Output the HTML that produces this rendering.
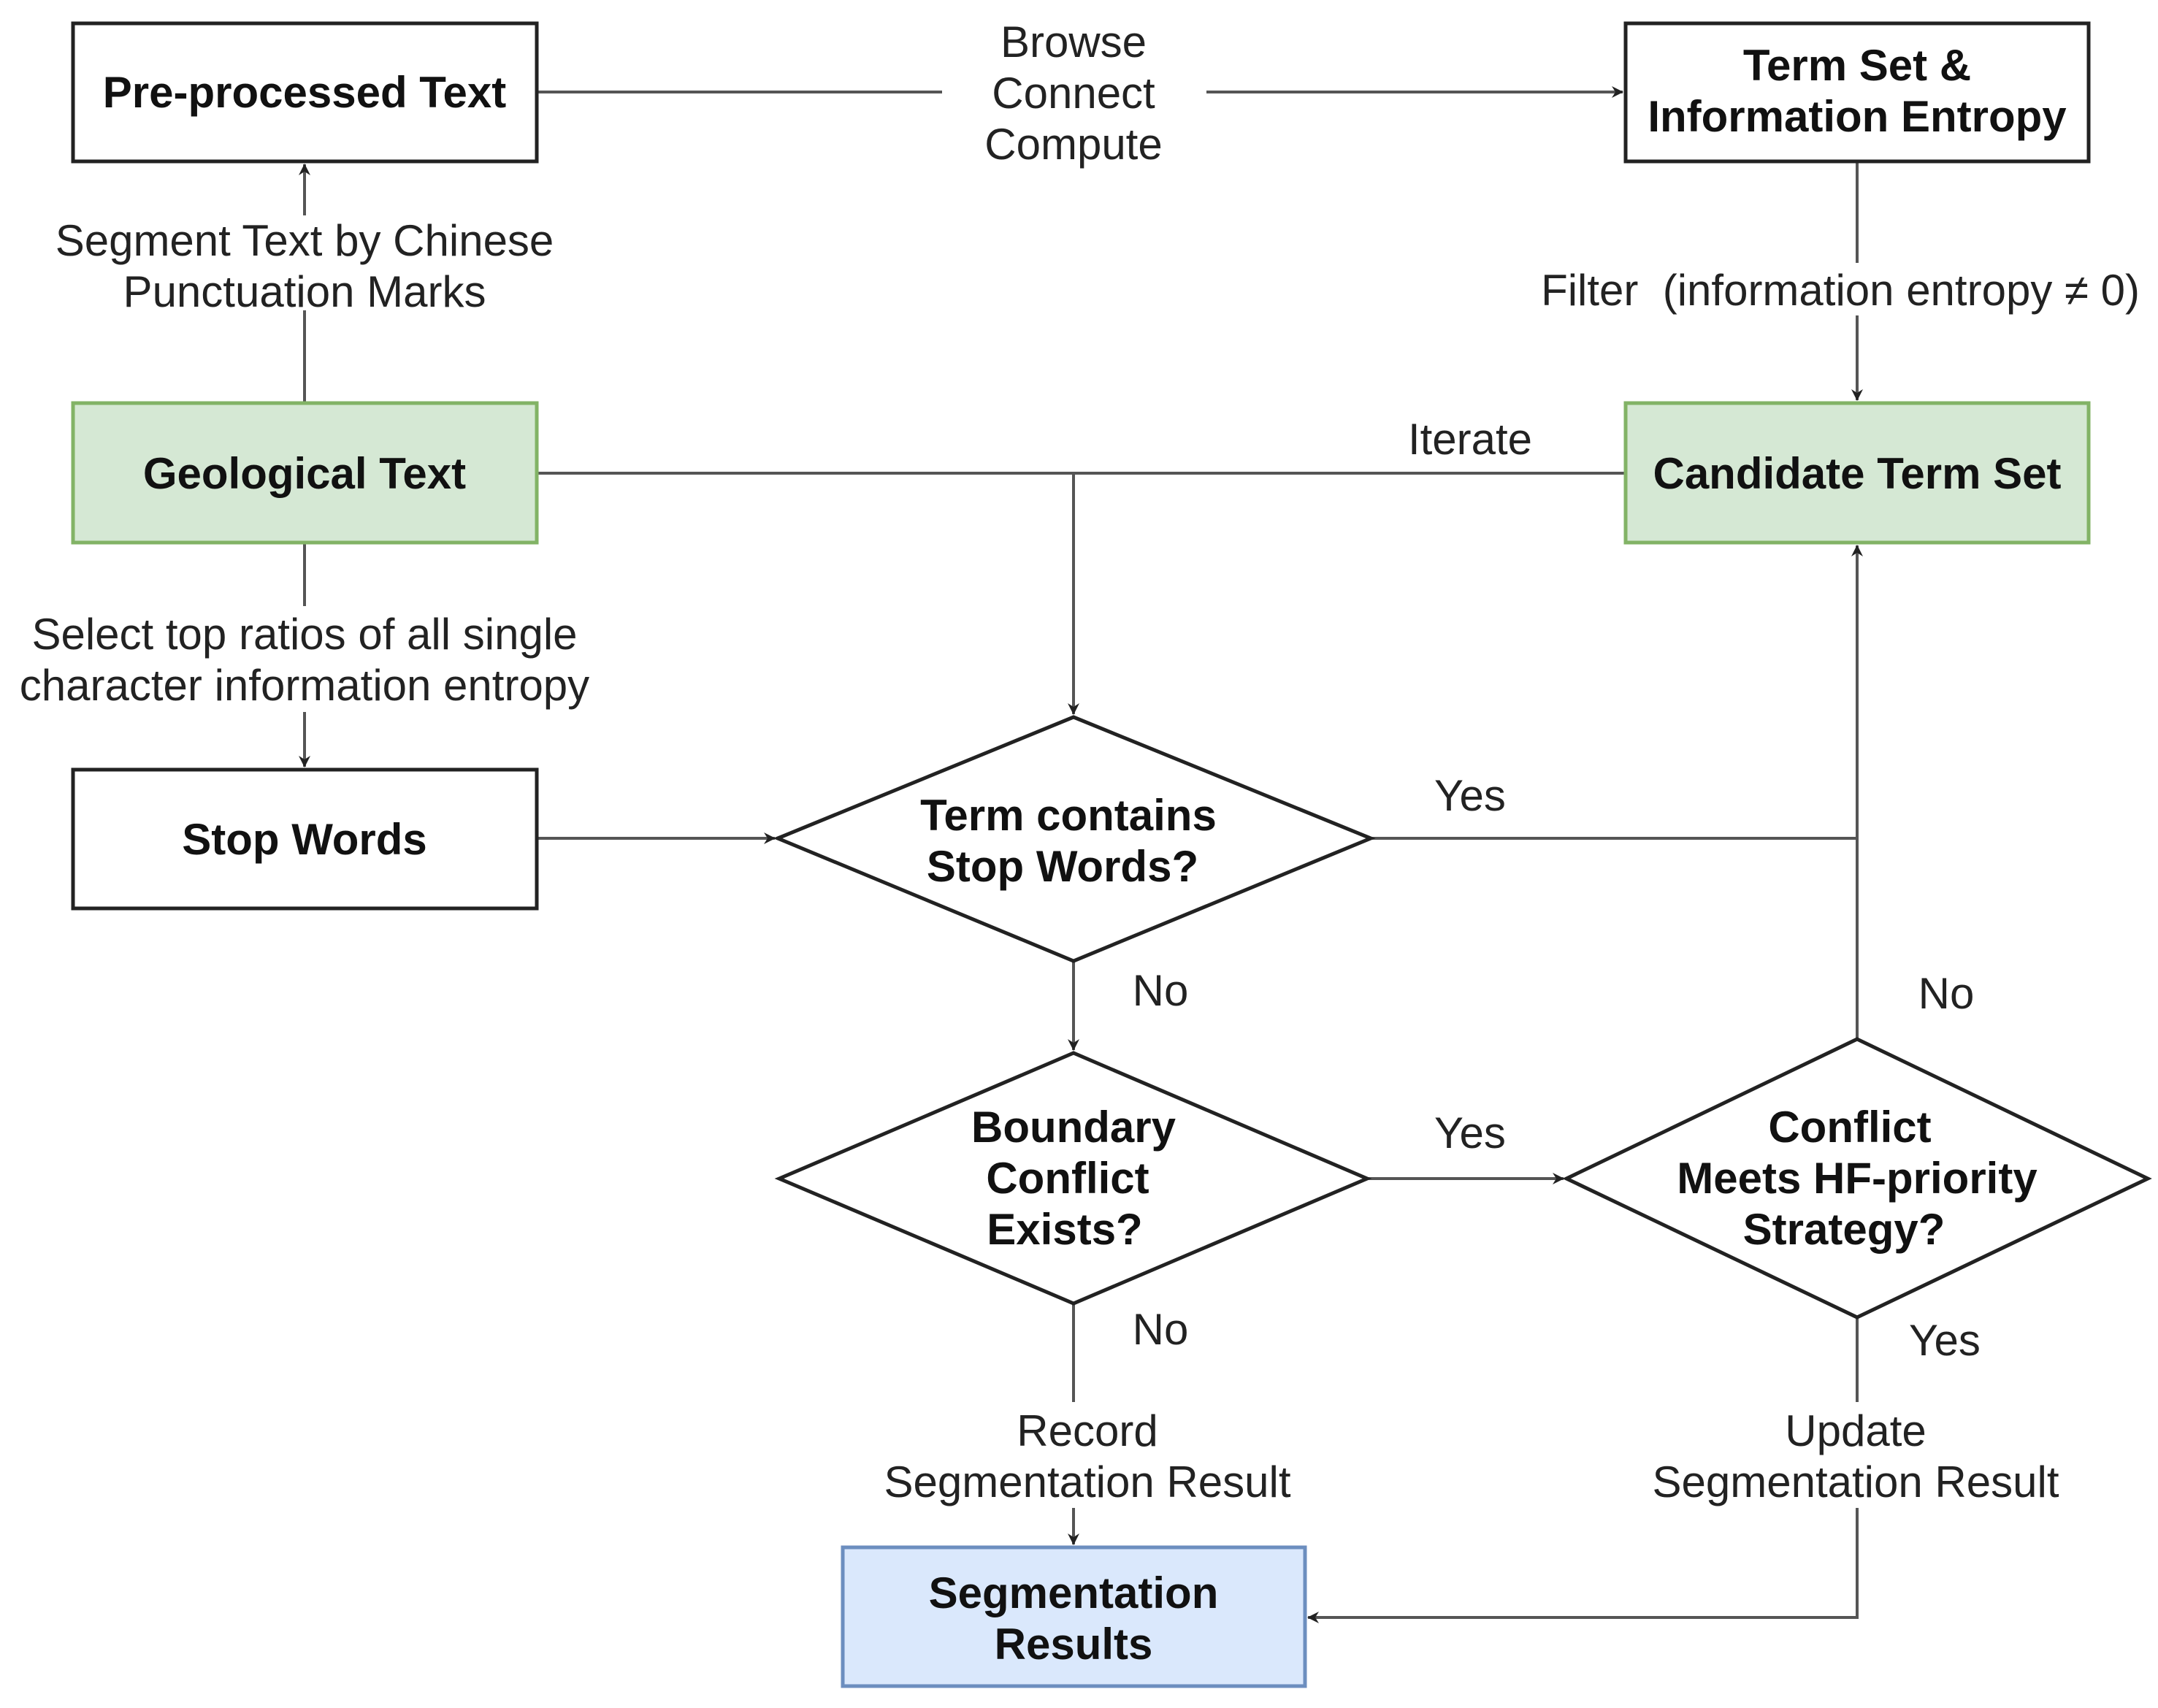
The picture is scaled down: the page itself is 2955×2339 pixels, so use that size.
<!DOCTYPE html>
<html><head><meta charset="utf-8"><style>
html,body{margin:0;padding:0;background:#fff;}
svg{display:block;}
text{font-family:"Liberation Sans",Arial,sans-serif;font-size:60px;fill:#222;}
.b{font-weight:bold;fill:#111;}
</style></head><body>
<svg width="2955" height="2339" viewBox="0 0 2955 2339" xmlns="http://www.w3.org/2000/svg">
<defs>
<marker id="a" markerWidth="16" markerHeight="16" refX="15" refY="8" orient="auto" markerUnits="userSpaceOnUse" viewBox="0 0 16 16">
<path d="M0,0 L16,8 L0,16 L5,8 Z" fill="#222"/>
</marker>
</defs>
<g stroke="#555" stroke-width="4" fill="none">
<line x1="735" y1="126" x2="1290" y2="126"/>
<line x1="1652" y1="126" x2="2222" y2="126" marker-end="url(#a)"/>
<line x1="2543" y1="221" x2="2543" y2="360"/>
<line x1="2543" y1="432" x2="2543" y2="548" marker-end="url(#a)"/>
<line x1="417" y1="552" x2="417" y2="425"/>
<line x1="417" y1="295" x2="417" y2="225" marker-end="url(#a)"/>
<line x1="735" y1="648" x2="2226" y2="648"/>
<line x1="1470" y1="648" x2="1470" y2="978" marker-end="url(#a)"/>
<line x1="417" y1="743" x2="417" y2="830"/>
<line x1="417" y1="975" x2="417" y2="1050" marker-end="url(#a)"/>
<line x1="735" y1="1148" x2="1061" y2="1148" marker-end="url(#a)"/>
<polyline points="1877,1148 2543,1148"/>
<line x1="2543" y1="1423" x2="2543" y2="747" marker-end="url(#a)"/>
<line x1="1470" y1="1316" x2="1470" y2="1438" marker-end="url(#a)"/>
<line x1="1872" y1="1614" x2="2141" y2="1614" marker-end="url(#a)"/>
<line x1="1470" y1="1785" x2="1470" y2="1920"/>
<line x1="1470" y1="2065" x2="1470" y2="2115" marker-end="url(#a)"/>
<line x1="2543" y1="1804" x2="2543" y2="1920"/>
<polyline points="2543,2065 2543,2215 1791,2215" marker-end="url(#a)"/>
</g>
<g stroke-width="5">
<rect x="100" y="32" width="635" height="189" fill="#fff" stroke="#222"/>
<rect x="2226" y="32" width="634" height="189" fill="#fff" stroke="#222"/>
<rect x="100" y="552" width="635" height="191" fill="#d5e8d4" stroke="#82b366"/>
<rect x="2226" y="552" width="634" height="191" fill="#d5e8d4" stroke="#82b366"/>
<rect x="100" y="1054" width="635" height="190" fill="#fff" stroke="#222"/>
<rect x="1154" y="2119" width="633" height="190" fill="#dae8fc" stroke="#6c8ebf"/>
<polygon points="1065,1148 1470,982 1877,1148 1470,1316" fill="#fff" stroke="#222"/>
<polygon points="1067,1614 1470,1442 1872,1614 1470,1785" fill="#fff" stroke="#222"/>
<polygon points="2145,1614 2543,1423 2941,1614 2543,1804" fill="#fff" stroke="#222"/>
</g>
<g text-anchor="middle">
<text class="b" x="417" y="147">Pre-processed Text</text>
<text class="b" x="2543" y="110">Term Set &amp;</text>
<text class="b" x="2543" y="180">Information Entropy</text>
<text class="b" x="417" y="669">Geological Text</text>
<text class="b" x="2543" y="669">Candidate Term Set</text>
<text class="b" x="417" y="1170">Stop Words</text>
<text class="b" x="1463" y="1137">Term contains</text>
<text class="b" x="1455" y="1207">Stop Words?</text>
<text class="b" x="1470" y="1564">Boundary</text>
<text class="b" x="1462" y="1634">Conflict</text>
<text class="b" x="1458" y="1704">Exists?</text>
<text class="b" x="2533" y="1564">Conflict</text>
<text class="b" x="2543" y="1634">Meets HF-priority</text>
<text class="b" x="2525" y="1704">Strategy?</text>
<text class="b" x="1470" y="2202">Segmentation</text>
<text class="b" x="1470" y="2272">Results</text>
</g>
<g text-anchor="middle">
<text x="1470" y="78">Browse</text>
<text x="1470" y="148">Connect</text>
<text x="1470" y="218">Compute</text>
<text x="417" y="350">Segment Text by Chinese</text>
<text x="417" y="420">Punctuation Marks</text>
<text x="2520" y="418" xml:space="preserve">Filter  (information entropy ≠ 0)</text>
<text x="2013" y="622">Iterate</text>
<text x="417" y="889">Select top ratios of all single</text>
<text x="417" y="959">character information entropy</text>
<text x="2013" y="1110">Yes</text>
<text x="1589" y="1377">No</text>
<text x="2013" y="1572">Yes</text>
<text x="2665" y="1381">No</text>
<text x="1589" y="1841">No</text>
<text x="2663" y="1856">Yes</text>
<text x="1489" y="1980">Record</text>
<text x="1489" y="2050">Segmentation Result</text>
<text x="2541" y="1980">Update</text>
<text x="2541" y="2050">Segmentation Result</text>
</g>
</svg>
</body></html>
